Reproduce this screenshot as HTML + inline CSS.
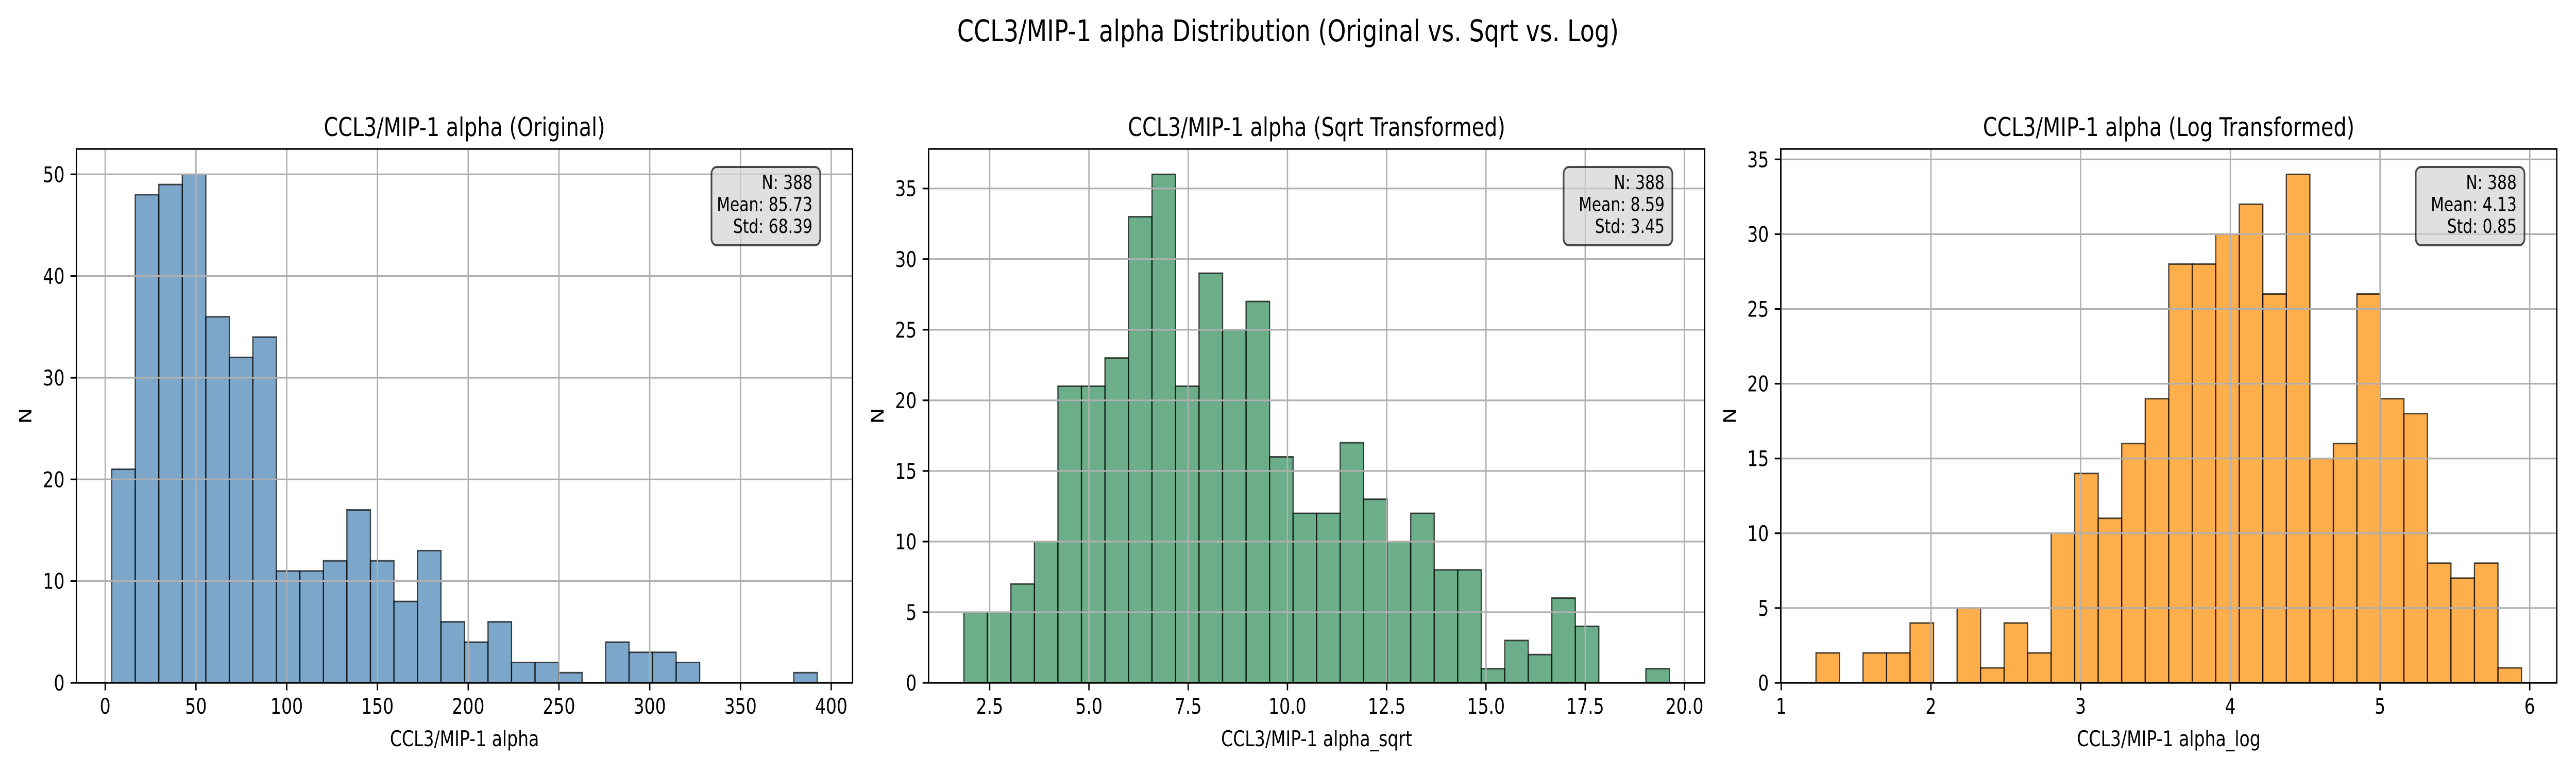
<!DOCTYPE html>
<html><head><meta charset="utf-8"><style>
html,body{margin:0;padding:0;background:#fff;width:100vw;height:100vh;overflow:hidden;}
svg{display:block;width:100vw;height:100vh;}
svg text{font-family:"DejaVu Sans","Liberation Sans",sans-serif;fill:#000;}
</style></head><body>
<svg id="fig" xmlns="http://www.w3.org/2000/svg" viewBox="0 0 6300 1500" preserveAspectRatio="none">
<rect width="6300" height="1500" fill="#fff"/>
<text x="3150" y="80" font-size="58" text-anchor="middle">CCL3/MIP-1 alpha Distribution (Original vs. Sqrt vs. Log)</text>
</svg>
<script>
const origCounts = [21,48,49,50,36,32,34,11,11,12,17,12,8,13,6,4,6,2,2,1,0,4,3,3,2,0,0,0,0,1];
const sqrtCounts = [5,5,7,10,21,21,23,33,36,21,29,25,27,16,12,12,17,13,10,12,8,8,1,3,2,6,4,0,0,1];
const logCounts = [2,0,2,2,4,0,5,1,4,2,10,14,11,16,19,28,28,30,32,26,34,15,16,26,19,18,8,7,8,1];
const origRange = [3.6, 392.3];
const sqrtRange = [1.85, 19.62];
const logRange = [1.232, 5.945];
const origXTicks = [0,50,100,150,200,250,300,350,400];
const sqrtXTicks = [2.5,5.0,7.5,10.0,12.5,15.0,17.5,20.0];
const logXTicks = [1,2,3,4,5,6];
const origYTicks = [0,10,20,30,40,50];
const sqrtYTicks = [0,5,10,15,20,25,30,35];
const logYTicks = [0,5,10,15,20,25,30,35];
const origStats = ["N: 388","Mean: 85.73","Std: 68.39"];
const sqrtStats = ["N: 388","Mean: 8.59","Std: 3.45"];
const logStats = ["N: 388","Mean: 4.13","Std: 0.85"];

const NS = "http://www.w3.org/2000/svg";
const svg = document.getElementById('fig');
function mk(tag, attrs, parent){
  const e = document.createElementNS(NS, tag);
  for (const k in attrs) e.setAttribute(k, attrs[k]);
  (parent||svg).appendChild(e);
  return e;
}
const panels = [
  {key:'original', left:187, counts:origCounts, range:origRange, xt:origXTicks, yt:origYTicks, dec:0, stats:origStats, fill:'rgba(70,130,180,0.7)', title:'CCL3/MIP-1 alpha (Original)', xlabel:'CCL3/MIP-1 alpha'},
  {key:'sqrt', left:2271, counts:sqrtCounts, range:sqrtRange, xt:sqrtXTicks, yt:sqrtYTicks, dec:1, stats:sqrtStats, fill:'rgba(46,139,87,0.7)', title:'CCL3/MIP-1 alpha (Sqrt Transformed)', xlabel:'CCL3/MIP-1 alpha_sqrt'},
  {key:'log', left:4355, counts:logCounts, range:logRange, xt:logXTicks, yt:logYTicks, dec:0, stats:logStats, fill:'rgba(255,140,0,0.7)', title:'CCL3/MIP-1 alpha (Log Transformed)', xlabel:'CCL3/MIP-1 alpha_log'}
];
const W = 1898, TOP = 289, H = 1036, BOT = TOP + H;
panels.forEach(p => {
  const g = mk('g', {});
  
  
  const lo = p.range[0], hi = p.range[1], span = hi - lo;
  const x0 = lo - 0.05*span, x1 = hi + 0.05*span;
  const ymax = Math.max(...p.counts) * 1.05;
  const sx = v => p.left + (v - x0) / (x1 - x0) * W;
  const sy = v => BOT - v / ymax * H;
  const n = p.counts.length, bw = span / n;
  p.counts.forEach((c, i) => {
    if (c <= 0) return;
    const a = sx(lo + i*bw), b = sx(lo + (i+1)*bw);
    const r = mk('rect', {x:a, y:sy(c), width:b-a, height:BOT-sy(c), fill:p.fill, stroke:'rgba(0,0,0,0.7)', 'stroke-width':3}, g);
    
    
  });
  p.xt.forEach(t => {
    const x = sx(t);
    const l = mk('line', {x1:x, x2:x, y1:TOP, y2:BOT, stroke:'#b0b0b0', 'stroke-width':3.3}, g);
    
    
    mk('line', {x1:x, x2:x, y1:BOT, y2:BOT+14.6, stroke:'#000', 'stroke-width':3.3}, g);
    const tx = mk('text', {x:x, y:BOT+60, 'font-size':41.7, 'text-anchor':'middle'}, g);
    tx.textContent = t.toFixed(p.dec);
    
    
  });
  p.yt.forEach(t => {
    const y = sy(t);
    const l = mk('line', {x1:p.left, x2:p.left+W, y1:y, y2:y, stroke:'#b0b0b0', 'stroke-width':3.3}, g);
    
    
    mk('line', {x1:p.left-14.6, x2:p.left, y1:y, y2:y, stroke:'#000', 'stroke-width':3.3}, g);
    const tx = mk('text', {x:p.left-29, y:y+15, 'font-size':41.7, 'text-anchor':'end'}, g);
    tx.textContent = String(t);
    
    
  });
  const fr = mk('rect', {x:p.left, y:TOP, width:W, height:H, fill:'none', stroke:'#000', 'stroke-width':3.3}, g);
  
  
  const ti = mk('text', {x:p.left+W/2, y:264, 'font-size':50, 'text-anchor':'middle'}, g);
  ti.textContent = p.title;
  
  
  const xl = mk('text', {x:p.left+W/2, y:1448, 'font-size':41.7, 'text-anchor':'middle'}, g);
  xl.textContent = p.xlabel;
  
  
  const yx = p.left - 110, yy = TOP + H/2;
  const yl = mk('text', {x:yx, y:yy, 'font-size':41.7, 'text-anchor':'middle', transform:'rotate(-90 '+yx+' '+yy+')'}, g);
  yl.textContent = 'N';
  
  
  const right = p.left + W - 98;
  const bx = right - 247;
  const box = mk('rect', {x:bx, y:TOP+35, width:266, height:152, rx:13, fill:'rgba(211,211,211,0.7)', stroke:'rgba(0,0,0,0.7)', 'stroke-width':4}, g);
  
  
  p.stats.forEach((s, i) => {
    const st = mk('text', {x:right, y:TOP+78+i*42.5, 'font-size':37.5, 'text-anchor':'end'}, g);
    st.textContent = s;
    
    
  });
});
</script>
</body></html>
